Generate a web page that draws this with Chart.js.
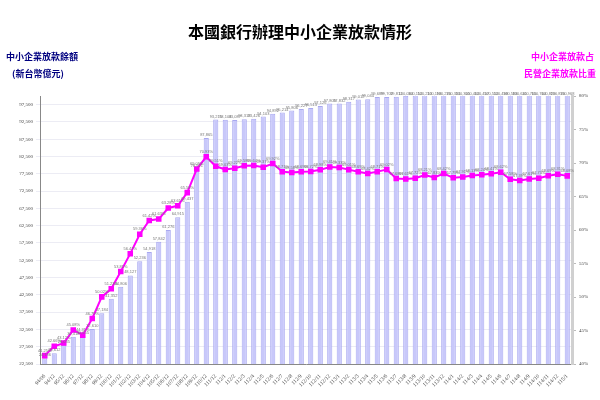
<!DOCTYPE html>
<html>
<head>
<meta charset="utf-8">
<script src="https://cdn.jsdelivr.net/npm/chart.js@4"></script>
<style>
  body { margin: 0; background: #fff; }
  #wrap { position: relative; width: 600px; height: 400px; }
  .txt { position: absolute; font-family: 'Noto Sans CJK TC', sans-serif; font-weight: bold; white-space: nowrap; }
  #title { left: 0; width: 600px; top: 19px; text-align: center; font-size: 16px; color: #000; }
  .leftLbl { left: 6px; color: #000080; font-size: 9px; }
  .rightLbl { right: 4px; color: #ff00ff; font-size: 9px; text-align: right; }
</style>
</head>
<body>
<div id="wrap">
  <canvas id="chartSme" width="600" height="400"></canvas>
  <div id="title" class="txt">本國銀行辦理中小企業放款情形</div>
  <div class="txt leftLbl" style="top:50px;">中小企業放款餘額</div>
  <div class="txt leftLbl" style="top:67px; left:12px;">(新台幣億元)</div>
  <div class="txt rightLbl" style="top:50px; right:6px;">中小企業放款占</div>
  <div class="txt rightLbl" style="top:67px;">民營企業放款比重</div>
</div>
<script>
// categorias (94/06 ... 111/12 anuais, depois mensais)
const periodos = ['94/06', '94/12', '95/12', '96/12', '97/12', '98/12', '99/12',
    '100/12', '101/12', '102/12', '103/12', '104/12', '105/12', '106/12', '107/12',
    '108/12', '109/12', '110/12', '111/12',
    '112/1', '112/2', '112/3', '112/4', '112/5', '112/6', '112/7', '112/8', '112/9', '112/10', '112/11', '112/12',
    '113/1', '113/2', '113/3', '113/4', '113/5', '113/6', '113/7', '113/8', '113/9', '113/10', '113/11', '113/12',
    '114/1', '114/2', '114/3', '114/4', '114/5', '114/6', '114/7', '114/8', '114/9', '114/10', '114/11', '114/12',
    '115/1'];

// saldo de emprestimos (億元)
const saldoPme = [24186, 25612, 28035, 30412, 30655, 32610, 37184,
    41352, 44806, 48127, 52236, 54918, 57842, 61276, 64915,
    69437, 78921, 87865, 93215,
    93104, 93087, 93312, 93426, 94103, 94892, 95214, 95806, 96227, 96513, 97126, 97805,
    97832, 98317, 99012, 99044, 99689, 99702, 99812, 100084, 100152, 100213, 100198, 100276,
    100331, 100305, 100402, 100457, 100512, 100498, 100583, 100641, 100705, 100764, 100829, 100876,
    100968];

// participacao (%)
const participacao = [41.25, 42.66, 43.12, 45.08, 44.31, 46.79, 50.02,
    51.23, 53.81, 56.47, 59.36, 61.42, 61.63, 63.28, 63.61,
    65.58, 69.09, 70.93, 69.51,
    69.03, 69.22, 69.58, 69.64, 69.37, 69.92, 68.71, 68.58, 68.69, 68.72, 68.98, 69.41,
    69.33, 69.01, 68.69, 68.42, 68.71, 69.02, 67.68, 67.61, 67.72, 68.21, 67.83, 68.42,
    67.79, 67.91, 68.13, 68.24, 68.41, 68.62, 67.58, 67.39, 67.61, 67.73, 68.09, 68.31,
    68.08];

// ticks do eixo esquerdo
const ticksEsq = [22500, 27500, 32500, 37500, 42500, 47500, 52500, 57500,
    62500, 67500, 72500, 77500, 82500, 87500, 92500, 97500];

// rotulos de valores
const rotulos = {
    id: 'rotulos',
    afterDatasetsDraw(chart) {
        const ctx = chart.ctx;
        const area = chart.chartArea;
        ctx.save();
        ctx.font = '4px "Liberation Sans"';
        ctx.fillStyle = '#777';
        ctx.textAlign = 'center';
        ctx.textBaseline = 'bottom';
        chart.getDatasetMeta(1).data.forEach((el, i) => {
            const y = Math.max(el.y, area.top + 1);
            ctx.fillText(saldoPme[i].toLocaleString('en-US'), el.x, y - 1);
        });
        chart.getDatasetMeta(0).data.forEach((el, i) => {
            ctx.fillText(participacao[i].toFixed(2) + '%', el.x, el.y - 3);
        });
        ctx.restore();
    }
};

const dadosPme = {
    labels: periodos,
    datasets: [{
        type: 'line',
        label: '比重',
        data: participacao,
        yAxisID: 'yDir',
        borderColor: '#ff00ff',
        backgroundColor: '#ff00ff',
        borderWidth: 2,
        pointStyle: 'rect',
        pointRadius: 2.5,
        tension: 0,
        order: 0
    }, {
        type: 'bar',
        label: '餘額',
        data: saldoPme,
        yAxisID: 'yEsq',
        backgroundColor: 'rgba(200, 200, 250, 1)',
        borderColor: '#a8a8f0',
        borderWidth: 1,
        barPercentage: 0.6,
        categoryPercentage: 0.9,
        order: 1
    }]
};

const configPme = {
    data: dadosPme,
    plugins: [rotulos],
    options: {
        responsive: false,
        animation: false,
        layout: { padding: { top: 96, left: 0, right: 0, bottom: 0 } },
        plugins: {
            legend: { display: false },
            title: { display: false },
            tooltip: { enabled: false }
        },
        scales: {
            x: {
                grid: { display: false },
                border: { color: '#888' },
                afterFit: (s) => { s.height = 36; },
                ticks: {
                    autoSkip: false,
                    minRotation: 45,
                    maxRotation: 45,
                    padding: 1,
                    color: '#444',
                    font: { size: 5.5, family: "'Liberation Serif'" }
                }
            },
            yEsq: {
                position: 'left',
                min: 22500,
                max: 100000,
                afterBuildTicks: (s) => { s.ticks = ticksEsq.map(v => ({ value: v })); },
                afterFit: (s) => { s.width = 40; },
                grid: { color: '#ececf4', tickLength: 4 },
                border: { color: '#888' },
                ticks: {
                    padding: 3,
                    color: '#444',
                    font: { size: 5, family: "'Liberation Serif'" },
                    callback: (v) => v.toLocaleString('en-US')
                }
            },
            yDir: {
                position: 'right',
                min: 40,
                max: 80,
                afterFit: (s) => { s.width = 28; },
                grid: { display: true, drawOnChartArea: false, tickLength: 4, color: '#bbb' },
                border: { color: '#d0d0d0', width: 3 },
                ticks: {
                    stepSize: 5,
                    padding: 3,
                    color: '#444',
                    font: { size: 5, family: "'Liberation Serif'" },
                    callback: (v) => v + '%'
                }
            }
        }
    }
};

const ctxPme = document.getElementById('chartSme').getContext('2d');
new Chart(ctxPme, configPme);
</script>
</body>
</html>
